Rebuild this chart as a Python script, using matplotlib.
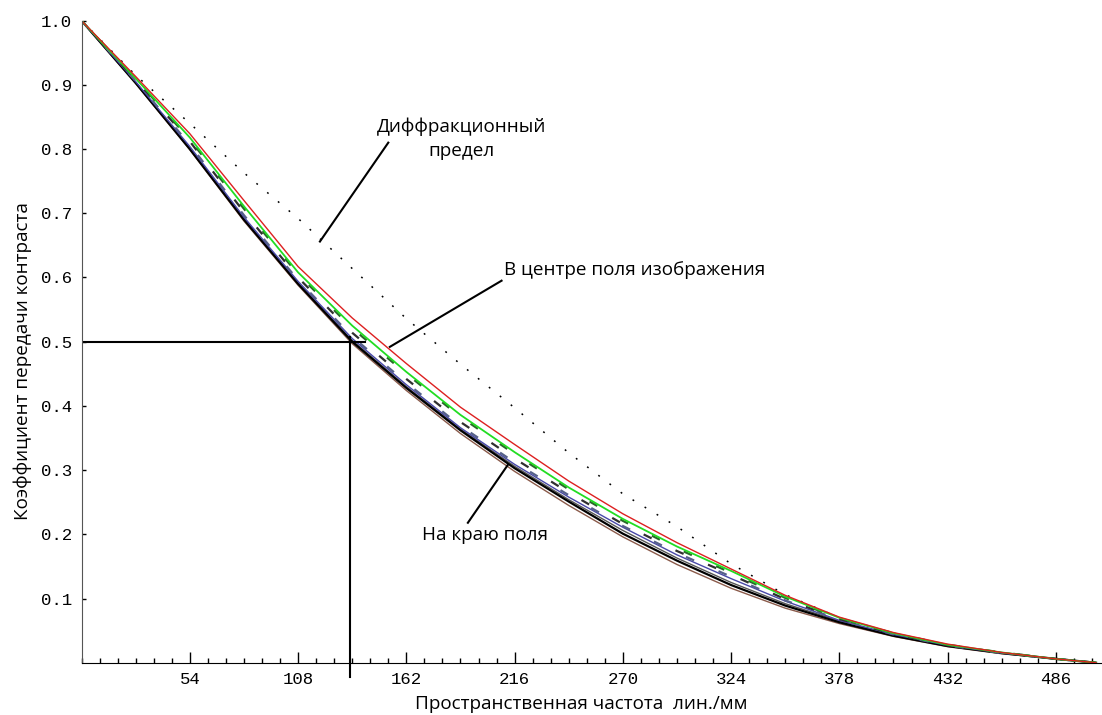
import matplotlib
matplotlib.use('Agg')
import matplotlib.pyplot as plt
from matplotlib.ticker import MultipleLocator

# spatial frequency, lines/mm
freq = [0, 27, 54, 81, 108, 135, 162, 189, 216, 243, 270, 297, 324, 351, 378, 405, 432, 459, 486, 506]

# diffraction limit (dotted)
diff_lim = [1.0, .915, .840, .763, .692, .614, .536, .465, .397, .327, .263, .212, .154, .106, .070, .046, .028, .016, .006, 0.0]

# field curves, centre of field on top
red_c = [1.0, .913, .824, .720, .617, .537, .466, .398, .340, .283, .232, .187, .146, .105, .071, .047, .029, .016, .006, 0.0]
green_c = [1.0, .910, .818, .711, .608, .525, .453, .386, .328, .273, .224, .181, .143, .103, .070, .046, .028, .016, .006, 0.0]
green_dash = [1.0, .909, .815, .707, .605, .521, .450, .383, .325, .270, .221, .178, .140, .101, .069, .046, .028, .016, .006, 0.0]
gray_dash = [1.0, .908, .812, .702, .600, .514, .442, .375, .318, .265, .216, .174, .137, .099, .068, .045, .027, .016, .006, 0.0]
slate_dash = [1.0, .906, .807, .697, .596, .508, .436, .369, .312, .261, .213, .171, .134, .097, .067, .044, .027, .015, .006, 0.0]
blue_c = [1.0, .905, .804, .694, .594, .505, .433, .366, .309, .258, .211, .168, .131, .096, .066, .044, .027, .015, .006, 0.0]
gray_c = [1.0, .904, .802, .692, .592, .502, .430, .364, .306, .254, .206, .163, .125, .092, .065, .043, .026, .015, .006, 0.0]
black_c = [1.0, .903, .800, .690, .590, .500, .428, .362, .303, .251, .201, .159, .121, .089, .063, .042, .026, .015, .006, 0.0]
brown_c = [1.0, .902, .799, .688, .588, .497, .424, .357, .298, .245, .196, .153, .116, .085, .061, .041, .025, .014, .006, 0.0]

x_ticks = [54, 108, 162, 216, 270, 324, 378, 432, 486]
y_ticks = [0.1, 0.2, 0.3, 0.4, 0.5, 0.6, 0.7, 0.8, 0.9, 1.0]

f_50 = 134  # frequency at contrast 0.5 (edge of field)

fig = plt.figure(figsize=(11.02, 7.15), dpi=100)
ax = fig.add_axes([0.074, 0.0731, 0.926, 0.898])

ax.plot(freq, diff_lim, color='black', lw=1.1, linestyle=(0, (1.2, 8)))
ax.plot(freq, brown_c, color='#8a5a4a', lw=1.0)
ax.plot(freq, gray_c, color='#555555', lw=1.0)
ax.plot(freq, black_c, color='black', lw=1.6)
ax.plot(freq, blue_c, color='#4848a8', lw=1.0)
ax.plot(freq, slate_dash, color='#56608a', lw=1.6, linestyle=(0, (4, 12)))
ax.plot(freq, gray_dash, color='#303030', lw=1.6, linestyle=(6, (4, 12)))
ax.plot(freq, green_dash, color='#2a6a2a', lw=1.6, linestyle=(3, (4, 12)))
ax.plot(freq, green_c, color='#22dd22', lw=1.3)
ax.plot(freq, red_c, color='#dd2020', lw=1.0)

# crosshair at contrast 0.5
ax.plot([0, 141.4], [0.5, 0.5], color='black', lw=1.5)
ax.plot([f_50, f_50], [0.507, -0.022], color='black', lw=1.5, clip_on=False)

# labels with leader lines
txt_font = 'Open Sans'
fs = 13.6
ax.plot([153.0, 118.9], [0.810, 0.656], color='black', lw=1.5)
ax.text(189.6, 0.816, 'Диффракционный\nпредел', ha='center', va='center',
        fontsize=fs, family=txt_font, linespacing=1.45)
ax.plot([209.5, 153.8], [0.595, 0.492], color='black', lw=1.5)
ax.text(276, 0.611, 'В центре поля изображения', ha='center', va='center',
        fontsize=fs, family=txt_font)
ax.plot([192.7, 212.6], [0.218, 0.308], color='black', lw=1.5)
ax.text(169.6, 0.199, 'На краю поля', ha='left', va='center',
        fontsize=fs, family=txt_font)

ax.set_xlim(0, 509)
ax.set_ylim(0, 1.0)
ax.spines['top'].set_visible(False)
ax.spines['right'].set_visible(False)
ax.spines['left'].set_color('#555555')

ax.set_xticks(x_ticks)
ax.xaxis.set_minor_locator(MultipleLocator(9))
ax.set_yticks(y_ticks)
ax.set_yticklabels(['%.1f' % v for v in y_ticks])
ax.tick_params(axis='x', which='major', direction='in', length=8, width=1, pad=7)
ax.tick_params(axis='x', which='minor', direction='in', length=3.6, width=1)
ax.tick_params(axis='y', which='major', direction='in', length=3, width=1, pad=7)
for lab in ax.get_xticklabels() + ax.get_yticklabels():
    lab.set_family('Liberation Mono')
    lab.set_fontsize(12.5)

ax.set_xlabel('Пространственная частота  лин./мм', family=txt_font, fontsize=fs)
ax.set_ylabel('Коэффициент передачи контраста', family=txt_font, fontsize=fs)
ax.xaxis.set_label_coords(0.49, -0.051)
ax.yaxis.set_label_coords(-0.049, 0.47)

fig.savefig('out.png', dpi=100)
